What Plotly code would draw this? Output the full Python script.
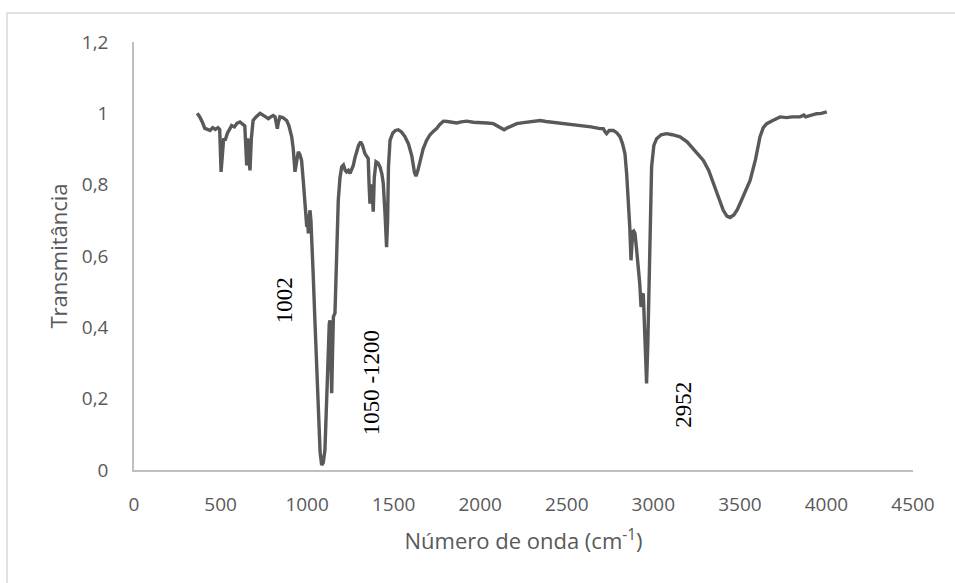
import plotly.graph_objects as go

# FTIR spectrum: wavenumber (cm-1) vs transmittance
wavenumber = [
    365, 380, 395, 409, 425, 439, 455, 470, 485, 495, 503, 510, 518, 526, 540, 552, 564, 580, 595, 612,
    625, 640, 651, 657, 663, 670, 678, 688, 705, 728, 745, 760, 776, 790, 804, 815, 822, 828, 834, 843,
    860, 882, 895, 911, 920, 930, 938, 949, 958, 968, 978, 988, 998, 1003, 1007, 1012, 1017, 1022, 1026, 1035,
    1045, 1055, 1065, 1075, 1084, 1093, 1103, 1113, 1123, 1128, 1132, 1137, 1142, 1147, 1152, 1161, 1170, 1180, 1190, 1200,
    1210, 1220, 1228, 1238, 1248, 1258, 1267, 1276, 1286, 1297, 1309, 1320, 1334, 1345, 1353, 1358, 1363, 1368, 1373, 1378,
    1382, 1388, 1398, 1410, 1421, 1432, 1440, 1450, 1459, 1465, 1470, 1479, 1495, 1510, 1527, 1545, 1565, 1585, 1605, 1620,
    1629, 1640, 1655, 1670, 1690, 1710, 1730, 1748, 1765, 1787, 1810, 1835, 1864, 1890, 1922, 1960, 2000, 2040, 2076, 2100,
    2120, 2138, 2160, 2185, 2211, 2250, 2300, 2346, 2380, 2420, 2461, 2500, 2550, 2596, 2640, 2692, 2711, 2721, 2730, 2745,
    2769, 2790, 2808, 2822, 2836, 2846, 2856, 2864, 2871, 2876, 2881, 2887, 2894, 2903, 2913, 2922, 2929, 2935, 2942, 2950,
    2956, 2961, 2968, 2977, 2983, 2990, 3003, 3019, 3045, 3076, 3110, 3154, 3195, 3231, 3260, 3289, 3320, 3347, 3375, 3404,
    3425, 3443, 3465, 3485, 3501, 3530, 3559, 3590, 3616, 3635, 3655, 3690, 3732, 3770, 3800, 3847, 3870, 3880, 3900, 3943,
    3970, 4002,
]
transmittance = [
    1.00, 0.99, 0.975, 0.958, 0.955, 0.952, 0.96, 0.955, 0.96, 0.955, 0.836, 0.90, 0.93, 0.924, 0.945, 0.955, 0.966, 0.962, 0.972, 0.976,
    0.97, 0.965, 0.854, 0.93, 0.88, 0.84, 0.93, 0.98, 0.99, 1.0, 0.995, 0.99, 0.985, 0.99, 0.994, 0.99, 0.975, 0.957, 0.975, 0.99,
    0.988, 0.98, 0.965, 0.934, 0.90, 0.836, 0.86, 0.892, 0.885, 0.868, 0.81, 0.738, 0.682, 0.70, 0.663, 0.71, 0.728, 0.70, 0.663, 0.55,
    0.42, 0.29, 0.15, 0.05, 0.014, 0.02, 0.056, 0.20, 0.383, 0.41, 0.42, 0.33, 0.215, 0.33, 0.43, 0.44, 0.60, 0.756, 0.82, 0.85,
    0.855, 0.84, 0.836, 0.84, 0.832, 0.845, 0.854, 0.875, 0.896, 0.91, 0.92, 0.91, 0.887, 0.88, 0.873, 0.80, 0.747, 0.80, 0.794, 0.76,
    0.724, 0.82, 0.864, 0.86, 0.85, 0.83, 0.803, 0.72, 0.625, 0.70, 0.85, 0.924, 0.945, 0.952, 0.954, 0.948, 0.935, 0.915, 0.88, 0.835,
    0.824, 0.84, 0.875, 0.90, 0.924, 0.94, 0.95, 0.957, 0.968, 0.978, 0.977, 0.975, 0.973, 0.976, 0.978, 0.975, 0.975, 0.973, 0.971, 0.965,
    0.958, 0.954, 0.96, 0.966, 0.971, 0.974, 0.977, 0.98, 0.977, 0.975, 0.973, 0.97, 0.968, 0.964, 0.962, 0.957, 0.957, 0.948, 0.943, 0.952,
    0.952, 0.945, 0.934, 0.915, 0.887, 0.83, 0.756, 0.68, 0.588, 0.64, 0.668, 0.67, 0.663, 0.62, 0.57, 0.52, 0.457, 0.49, 0.495, 0.40,
    0.30, 0.243, 0.35, 0.57, 0.72, 0.85, 0.91, 0.929, 0.94, 0.943, 0.94, 0.934, 0.92, 0.901, 0.885, 0.868, 0.84, 0.803, 0.765, 0.728,
    0.712, 0.708, 0.715, 0.73, 0.747, 0.78, 0.812, 0.87, 0.934, 0.96, 0.971, 0.98, 0.99, 0.988, 0.99, 0.99, 0.995, 0.99, 0.993, 0.999,
    1.0, 1.004,
]

# Band labels (text, position in data units)
band_labels = ["1002", "1050 -1200", "2952"]
band_x = [871, 1373, 3169]
band_y = [0.475, 0.245, 0.182]

x_ticks = [0, 500, 1000, 1500, 2000, 2500, 3000, 3500, 4000, 4500]
y_ticks = [0, 0.2, 0.4, 0.6, 0.8, 1.0, 1.2]
y_tick_text = ["0", "0,2", "0,4", "0,6", "0,8", "1", "1,2"]

fig = go.Figure()
fig.add_trace(go.Scatter(
    x=wavenumber, y=transmittance, mode="lines",
    line=dict(color="#595959", width=3.4),
    showlegend=False, hoverinfo="skip",
))

for txt, bx, by in zip(band_labels, band_x, band_y):
    fig.add_annotation(
        x=bx, y=by, xref="x", yref="y", text=txt, showarrow=False,
        textangle=-90, font=dict(family="Liberation Serif", size=23, color="#000000"),
    )

# outer chart frame
fig.add_shape(
    type="rect", xref="paper", yref="paper",
    x0=-0.163, x1=1.07, y0=-0.3, y1=1.0678,
    line=dict(color="#d9d9d9", width=1.5), fillcolor="rgba(0,0,0,0)",
)

tick_font = dict(family="Open Sans", size=19, color="#595959")
fig.update_layout(
    width=955, height=583,
    margin=dict(l=134, r=42, t=42, b=113),
    paper_bgcolor="white", plot_bgcolor="white",
    xaxis=dict(
        range=[0, 4500], tickvals=x_ticks, showgrid=False, zeroline=False,
        showline=True, linecolor="#bfbfbf", linewidth=1.5, ticks="",
        tickfont=tick_font, ticklabelstandoff=16,
        title=dict(text="Número de onda (cm<sup>-1</sup>)",
                   font=dict(family="Open Sans", size=22, color="#595959"), standoff=18),
    ),
    yaxis=dict(
        range=[0, 1.2], tickvals=y_ticks, ticktext=y_tick_text, showgrid=False, zeroline=False,
        showline=True, linecolor="#bfbfbf", linewidth=1.5, ticks="",
        tickfont=tick_font, ticklabelstandoff=20,
        title=dict(text="Transmitância",
                   font=dict(family="Open Sans", size=22, color="#595959"), standoff=8),
    ),
)

fig.write_html("out.html")
